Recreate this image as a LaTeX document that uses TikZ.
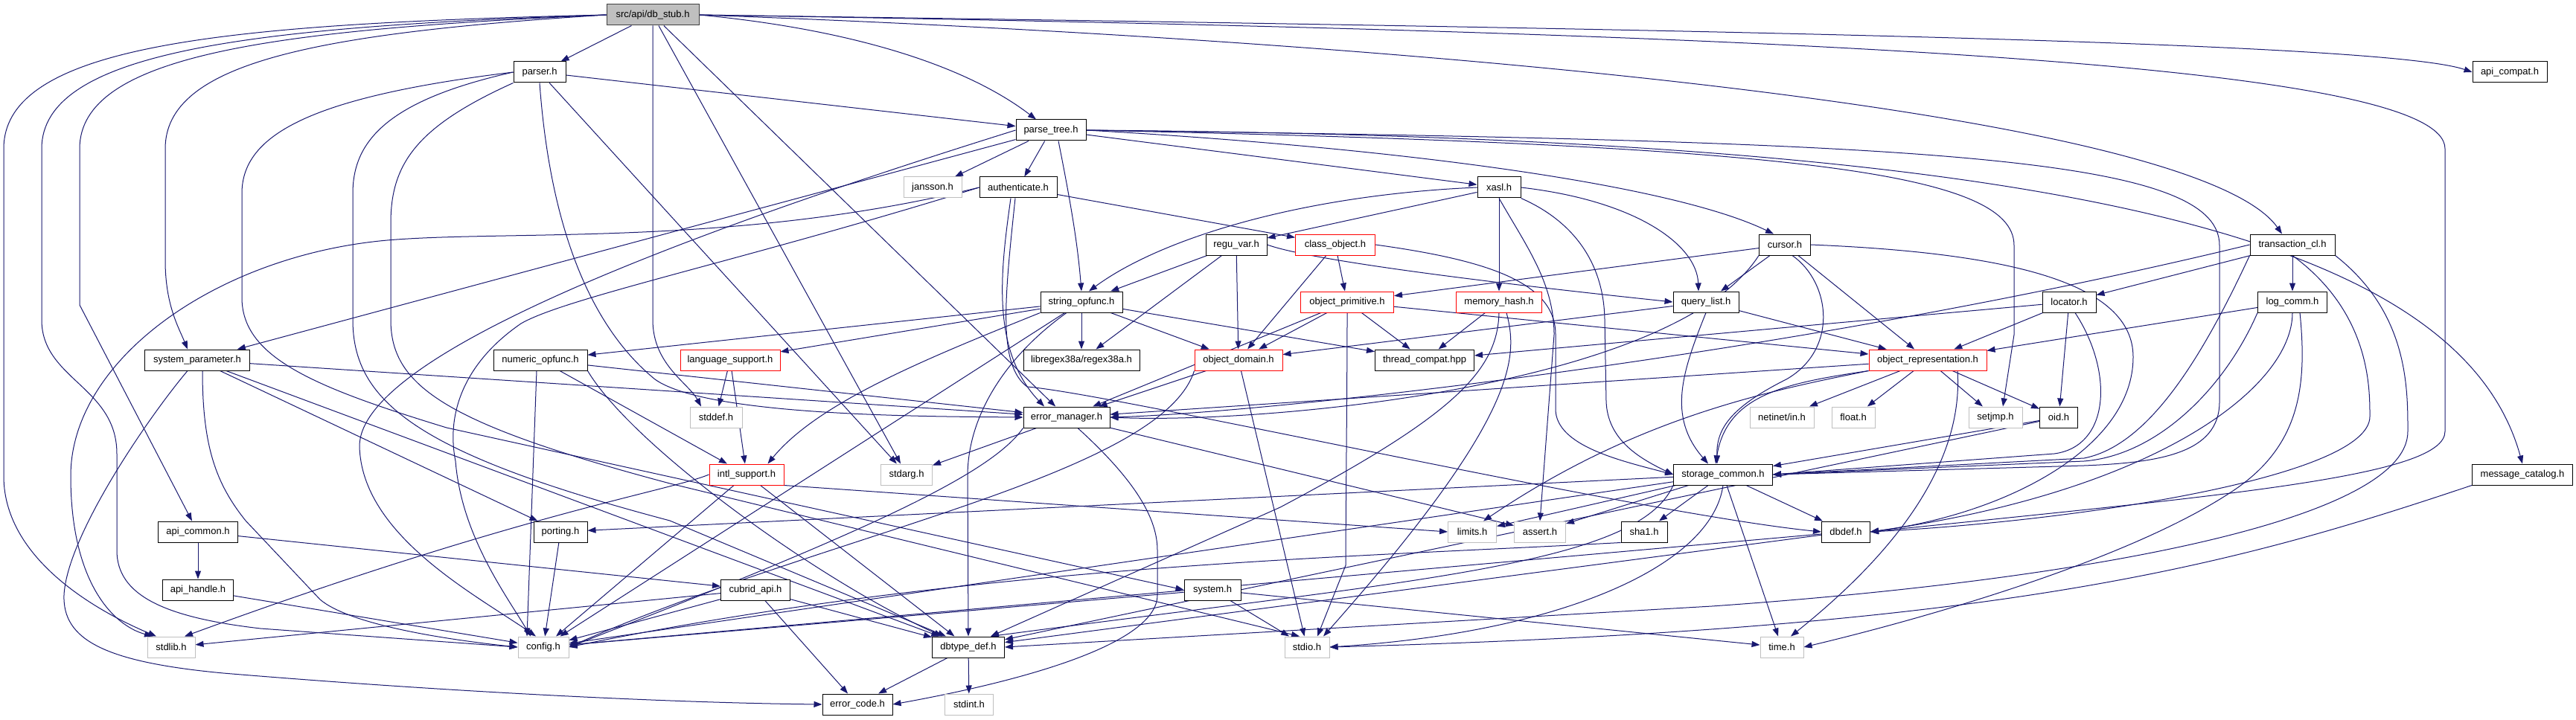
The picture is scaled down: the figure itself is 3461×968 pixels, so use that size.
\documentclass[tikz,border=0pt]{standalone}
\usepackage{fontspec}
\setmainfont{Liberation Sans}
\usetikzlibrary{arrows.meta}
\pgfdeclarelayer{bg}
\pgfsetlayers{bg,main}
\definecolor{edgec}{HTML}{191970}
\definecolor{grayb}{HTML}{BFBFBF}
\definecolor{stubfill}{HTML}{BFBFBF}
\begin{document}
\begin{tikzpicture}[x=1pt,y=-1pt,
  box/.style={draw=black,line width=1pt,rectangle,minimum height=28pt,inner sep=0pt,font=\fontsize{13}{15}\selectfont,text=black,fill=white},
  nb/.style={box},
  nr/.style={box,draw=red},
  ng/.style={box,draw=grayb},
  ns/.style={box,draw=black!75,fill=stubfill},
  e/.style={draw=edgec,line width=1pt,-{Triangle[length=11pt,width=8pt]}},
]
\useasboundingbox (0,0) rectangle (3461,968);
% nodes
\node[ns, minimum width=124] (dbstub) at (877,20) {src/api/db\_stub.h};
\node[nb, minimum width=70] (parser) at (725,97) {parser.h};
\node[nb, minimum width=100] (apicompat) at (3372,97) {api\_compat.h};
\node[nb, minimum width=94] (parsetree) at (1412,175) {parse\_tree.h};
\node[ng, minimum width=78] (jansson) at (1253,252) {jansson.h};
\node[nb, minimum width=104] (authenticate) at (1368,252) {authenticate.h};
\node[nb, minimum width=58] (xasl) at (2014,252) {xasl.h};
\node[nb, minimum width=114] (transcl) at (3080,329) {transaction\_cl.h};
\node[nb, minimum width=82] (reguvar) at (1661,329) {regu\_var.h};
\node[nr, minimum width=107] (classobj) at (1794,329) {class\_object.h};
\node[nb, minimum width=69] (cursor) at (2398,329) {cursor.h};
\node[nb, minimum width=110] (stringop) at (1453,406) {string\_opfunc.h};
\node[nr, minimum width=125] (objprim) at (1810,406) {object\_primitive.h};
\node[nr, minimum width=115] (memhash) at (2014,406) {memory\_hash.h};
\node[nb, minimum width=88] (querylist) at (2292,406) {query\_list.h};
\node[nb, minimum width=72] (locator) at (2780,406) {locator.h};
\node[nb, minimum width=93] (logcomm) at (3080,406) {log\_comm.h};
\node[nb, minimum width=141] (syspar) at (265,484) {system\_parameter.h};
\node[nb, minimum width=126] (numop) at (726,484) {numeric\_opfunc.h};
\node[nr, minimum width=134] (langsup) at (981,484) {language\_support.h};
\node[nb, minimum width=156] (libregex) at (1453,484) {libregex38a/regex38a.h};
\node[nr, minimum width=118] (objdom) at (1664,484) {object\_domain.h};
\node[nb, minimum width=133] (threadc) at (1914,484) {thread\_compat.hpp};
\node[nr, minimum width=158] (objrep) at (2590,484) {object\_representation.h};
\node[ng, minimum width=70] (stddef) at (962,561) {stddef.h};
\node[nb, minimum width=116] (errmgr) at (1433,561) {error\_manager.h};
\node[ng, minimum width=86] (netinet) at (2394,561) {netinet/in.h};
\node[ng, minimum width=58] (float) at (2490,561) {float.h};
\node[ng, minimum width=72] (setjmp) at (2681,561) {setjmp.h};
\node[nb, minimum width=51] (oid) at (2766,561) {oid.h};
\node[nr, minimum width=100] (intl) at (1003,638) {intl\_support.h};
\node[ng, minimum width=69] (stdarg) at (1218,638) {stdarg.h};
\node[nb, minimum width=133] (storage) at (2315,638) {storage\_common.h};
\node[nb, minimum width=135] (msgcat) at (3389,638) {message\_catalog.h};
\node[nb, minimum width=107] (apicommon) at (266,715) {api\_common.h};
\node[nb, minimum width=72] (porting) at (753,715) {porting.h};
\node[ng, minimum width=65] (limits) at (1978,715) {limits.h};
\node[ng, minimum width=69] (assert) at (2069,715) {assert.h};
\node[nb, minimum width=62] (sha1) at (2209,715) {sha1.h};
\node[nb, minimum width=65] (dbdef) at (2480,715) {dbdef.h};
\node[nb, minimum width=95] (apihandle) at (266,793) {api\_handle.h};
\node[nb, minimum width=93] (cubridapi) at (1015,793) {cubrid\_api.h};
\node[nb, minimum width=76] (system) at (1629,793) {system.h};
\node[ng, minimum width=64] (stdlib) at (230,870) {stdlib.h};
\node[ng, minimum width=68] (config) at (730,870) {config.h};
\node[nb, minimum width=97] (dbtype) at (1301,870) {dbtype\_def.h};
\node[ng, minimum width=60] (stdio) at (1756,870) {stdio.h};
\node[ng, minimum width=58] (time) at (2394,870) {time.h};
\node[nb, minimum width=94] (errcode) at (1152,947) {error\_code.h};
\node[ng, minimum width=65] (stdint) at (1302,947) {stdint.h};

\begin{pgfonlayer}{bg}
\fill[white] (0,0) rectangle (3461,968);
% db_stub
\draw[e] (dbstub.west) .. controls (300,32) and (5,60) .. (5,200) -- (5,640) .. controls (5,760) and (150,830) .. ([xshift=-20pt]stdlib.north);
\draw[e] (dbstub.west) .. controls (330,36) and (56,70) .. (56,200) -- (56,430) .. controls (56,510) and (157,520) .. (157,610) -- (157,740) .. controls (157,800) and (220,830) .. (350,845) -- (config.west);
\draw[e] (dbstub.west) .. controls (360,40) and (107,75) .. (107,200) -- (107,410) -- ([xshift=-8pt]apicommon.north);
\draw[e] (dbstub.west) .. controls (420,45) and (222,85) .. (222,200) -- (222,350) .. controls (222,410) and (240,440) .. ([xshift=-13pt]syspar.north);
\draw[e] (dbstub) -- (parser);
\draw[e] (dbstub.south) -- (877,430) .. controls (877,490) and (925,515) .. ([xshift=-20pt]stddef.north);
\draw[e] (dbstub) -- (stdarg);
\draw[e] (dbstub) -- (errmgr);
\draw[e] (dbstub.east) .. controls (1150,40) and (1300,90) .. ([xshift=-20pt]parsetree.north);
\draw[e] (dbstub.east) .. controls (2200,38) and (3200,55) .. (apicompat.west);
\draw[e] (dbstub.east) .. controls (1900,55) and (2950,150) .. ([xshift=-14pt]transcl.north);
\draw[e] (dbstub.east) .. controls (2500,45) and (3285,90) .. (3285,200) -- (3285,580) .. controls (3285,640) and (3000,665) .. (dbdef.east);
% parser
\draw[e] (parser) -- (parsetree);
\draw[e] (parser) -- (stdarg);
\draw[e] (parser.west) .. controls (420,130) and (325,180) .. (325,260) -- (325,400) .. controls (325,480) and (420,520) .. (600,575) -- (system.west);
\draw[e] (parser.west) .. controls (520,135) and (474,190) .. (474,260) -- (474,430) .. controls (474,540) and (560,610) .. (900,700) -- ([xshift=-30pt]dbtype.north);
\draw[e] (parser.south west) .. controls (560,170) and (525,220) .. (525,300) -- (525,430) .. controls (525,520) and (600,570) .. (900,650) -- ([xshift=-10pt]stdio.north);
\draw[e] (parser.south) .. controls (735,250) and (770,420) .. (880,510) .. controls (950,560) and (1250,560) .. (errmgr.west);
% parse_tree
\draw[e] (parsetree) -- (jansson);
\draw[e] (parsetree) -- (authenticate);
\draw[e] ([xshift=10pt]parsetree.south) .. controls (1440,280) and (1448,330) .. (stringop.north);
\draw[e] (parsetree) -- (xasl);
\draw[e] (parsetree.east) .. controls (1900,200) and (2250,250) .. ([xshift=-15pt]cursor.north);
\draw[e] (parsetree) -- (syspar);
\draw[e] (parsetree.west) .. controls (900,320) and (483,480) .. (483,600) .. controls (486,720) and (640,800) .. ([xshift=-10pt]config.north);
\draw[e] (parsetree.east) .. controls (2700,185) and (3300,300) .. (msgcat.north);
\draw[e] (parsetree.east) .. controls (2600,190) and (2982,210) .. (2982,330) -- (2982,540) .. controls (2982,610) and (2900,622) .. (2800,626) -- (storage.east);
\draw[e] (parsetree.east) .. controls (2400,195) and (2706,230) .. (2706,330) -- (2706,450) -- ([xshift=10pt]setjmp.north);
% authenticate
\draw[e] (authenticate) -- (classobj);
\draw[e] (authenticate.west) .. controls (1000,330) and (700,310) .. (533,322) .. controls (300,338) and (95,480) .. (95,640) .. controls (95,780) and (150,840) .. ([xshift=-25pt]stdlib.north);
\draw[e] (authenticate.west) .. controls (1000,350) and (760,400) .. (700,435) .. controls (620,490) and (600,560) .. (612,620) .. controls (620,720) and (680,800) .. ([xshift=-17pt]config.north);
\draw[e] ([xshift=-10pt]authenticate.south) .. controls (1345,360) and (1330,470) .. ([xshift=-30pt]errmgr.north);
\draw[e] ([xshift=-4pt]authenticate.south) .. controls (1350,400) and (1340,490) .. (1380,520) .. controls (1500,530) and (2200,690) .. (dbdef.west);
% xasl
\draw[e] (xasl.west) .. controls (1750,262) and (1560,320) .. ([xshift=10pt]stringop.north);
\draw[e] (xasl) -- (reguvar);
\draw[e] (xasl) -- (memhash);
\draw[e] (xasl.east) .. controls (2200,270) and (2280,330) .. ([xshift=-10pt]querylist.north);
\draw[e] (xasl.south) .. controls (2050,330) and (2088,380) .. (2088,450) -- (assert.north);
\draw[e] (xasl.south east) .. controls (2120,300) and (2155,360) .. (2156,430) -- (2158,540) .. controls (2160,590) and (2200,615) .. (storage.west);
% transaction_cl
\draw[e] (transcl) -- (locator);
\draw[e] (transcl) -- (logcomm);
\draw[e] (transcl.west) .. controls (2400,480) and (1700,555) .. (errmgr.east);
\draw[e] (transcl.south west) .. controls (2950,500) and (2880,600) .. (2800,616) -- (storage.east);
\draw[e] (transcl.south) .. controls (3184,420) and (3184,520) .. (3184,560) .. controls (3184,640) and (2800,700) .. (dbdef.east);
\draw[e] (transcl.south east) .. controls (3235,420) and (3235,520) .. (3235,580) .. controls (3235,700) and (2800,780) .. (2300,815) -- (dbtype.east);
% regu_var
\draw[e] (reguvar) -- (stringop);
\draw[e] (reguvar) -- (libregex);
\draw[e] (reguvar) -- (objdom);
\draw[e] (reguvar.east) .. controls (1760,350) and (2000,380) .. (querylist.west);
% class_object
\draw[e] (classobj) -- (objprim);
\draw[e] (classobj) -- (objdom);
\draw[e] (classobj.east) .. controls (2000,350) and (2090,380) .. (2090,450) -- (2090,550) .. controls (2090,600) and (2180,620) .. (storage.west);
% cursor
\draw[e] (cursor) -- (querylist);
\draw[e] (cursor) -- (objprim);
\draw[e] (cursor) -- (objrep);
\draw[e] (cursor.south west) .. controls (2250,520) and (1700,570) .. (errmgr.east);
\draw[e] ([xshift=10pt]cursor.south) .. controls (2460,380) and (2470,470) .. (2400,510) .. controls (2320,550) and (2306,580) .. ([xshift=-8pt]storage.north);
\draw[e] (cursor.east) .. controls (2700,340) and (2866,380) .. (2866,480) .. controls (2866,600) and (2700,690) .. (dbdef.east);
% string_opfunc
\draw[e] (stringop) -- (numop);
\draw[e] (stringop) -- (langsup);
\draw[e] (stringop.south west) .. controls (1250,480) and (1100,540) .. ([xshift=-22pt]intl.north east);
\draw[e] (stringop) -- (libregex);
\draw[e] (stringop) -- (objdom);
\draw[e] (stringop) -- (threadc);
\draw[e] ([xshift=-20pt]stringop.south) .. controls (1350,480) and (1300,560) .. (1300,640) -- (dbtype.north);
\draw[e] (stringop) -- (config);
% object_primitive
\draw[e] (objprim) -- (threadc);
\draw[e] (objprim) -- (objrep);
\draw[e] (objprim.south) .. controls (1810,520) and (1808,700) .. (1808,760) -- ([xshift=14pt]stdio.north);
\draw[e] (objprim) -- (objdom);
\draw[e] (objprim) -- (errmgr);
% memory_hash
\draw[e] (memhash) -- (threadc);
\draw[e] (memhash.south) .. controls (2012,500) and (1950,560) .. (1720,682) -- ([xshift=30pt]dbtype.north);
\draw[e] ([xshift=10pt]memhash.south) .. controls (2040,480) and (2040,560) .. ([xshift=22pt]stdio.north);
% query_list
\draw[e] (querylist) -- (objdom);
\draw[e] (querylist.south) .. controls (2260,500) and (2240,560) .. ([xshift=-20pt]storage.north);
\draw[e] (querylist) -- (objrep);
% locator
\draw[e] (locator) -- (objrep);
\draw[e] (locator) -- (oid);
\draw[e] (locator) -- (threadc);
\draw[e] ([xshift=8pt]locator.south) .. controls (2840,500) and (2835,600) .. (2760,610) -- (storage.east);
% log_comm
\draw[e] (logcomm) -- (objrep);
\draw[e] (logcomm.south west) .. controls (2990,520) and (2900,612) .. (2800,620) -- (storage.east);
\draw[e] (logcomm.south) .. controls (3080,520) and (2900,660) .. (dbdef.east);
\draw[e] ([xshift=10pt]logcomm.south) .. controls (3100,520) and (3090,600) .. (3000,660) .. controls (2850,760) and (2550,840) .. (time.east);
% system_parameter
\draw[e] (syspar) -- (errmgr);
\draw[e] (syspar) -- (porting);
\draw[e] ([xshift=7pt]syspar.south) .. controls (272,600) and (290,650) .. (330,700) -- (430,806) .. controls (470,840) and (600,860) .. (config.west);
\draw[e] ([xshift=-13pt]syspar.south) .. controls (200,560) and (90,720) .. (86,800) .. controls (84,860) and (140,890) .. (300,905) .. controls (600,930) and (900,945) .. (errcode.west);
\draw[e] (syspar) -- (dbtype);
% numeric_opfunc
\draw[e] (numop) -- (errmgr);
\draw[e] (numop) -- (intl);
\draw[e] (numop.south east) .. controls (850,600) and (1100,780) .. ([xshift=-35pt]dbtype.north);
\draw[e] ([xshift=-5pt]numop.south) -- ([xshift=-22pt]config.north);
% language_support
\draw[e] (langsup) -- (stddef);
\draw[e] (langsup) -- (intl);
% object_domain
\draw[e] (objdom) -- (errmgr);
\draw[e] (objdom.south west) .. controls (1560,640) and (1100,720) .. (config.east);
\draw[e] (objdom) -- (stdio);
% object_representation
\draw[e] (objrep) -- (netinet);
\draw[e] (objrep) -- (float);
\draw[e] (objrep) -- (setjmp);
\draw[e] (objrep) -- (oid);
\draw[e] (objrep) -- (errmgr);
\draw[e] (objrep.south west) .. controls (2400,515) and (2320,530) .. ([xshift=-10pt]storage.north);
\draw[e] (objrep.south west) .. controls (2380,525) and (2200,560) .. ([xshift=15pt]limits.north);
\draw[e] ([xshift=40pt]objrep.south) .. controls (2640,650) and (2500,780) .. ([xshift=12pt]time.north);
% error_manager
\draw[e] (errmgr) -- (stdarg);
\draw[e] (errmgr.south west) .. controls (1330,640) and (1150,720) .. (config.east);
\draw[e] ([xshift=15pt]errmgr.south) .. controls (1530,650) and (1555,700) .. (1555,740) -- (1555,800) .. controls (1555,870) and (1350,920) .. (errcode.east);
\draw[e] (errmgr) -- (assert);
% intl_support
\draw[e] (intl.west) .. controls (900,660) and (700,690) .. ([xshift=18pt]stdlib.north);
\draw[e] (intl) -- (dbtype);
\draw[e] (intl) -- (config);
\draw[e] (intl.south east) -- (limits.west);
% storage_common
\draw[e] (storage) -- (porting);
\draw[e] (storage) -- (limits);
\draw[e] (storage) -- (assert);
\draw[e] (storage) -- (sha1);
\draw[e] (storage) -- (dbdef);
\draw[e] (storage.south) .. controls (2300,760) and (2100,850) .. (stdio.east);
\draw[e] (storage) -- (time);
\draw[e] (storage) -- (config);
\draw[e] (storage.south west) .. controls (2200,760) and (1900,780) .. ([xshift=30pt]dbtype.north);
% message_catalog
\draw[e] (msgcat.south west) .. controls (3000,760) and (2700,845) .. (stdio.east);
% api_common
\draw[e] (apicommon) -- (apihandle);
\draw[e] (apicommon) -- (cubridapi);
% leaves
\draw[e] (apihandle) -- (config);
\draw[e] (porting) -- (config);
\draw[e] (sha1.south west) .. controls (1800,750) and (1300,760) .. (config.east);
\draw[e] (dbdef) -- (config);
\draw[e] (dbdef) -- (dbtype);
\draw[e] (cubridapi) -- (stdlib);
\draw[e] (cubridapi) -- (config);
\draw[e] (cubridapi) -- (errcode);
\draw[e] (cubridapi) -- (dbtype);
\draw[e] (system) -- (config);
\draw[e] (system) -- (stdio);
\draw[e] (system) -- (time);
\draw[e] (dbtype) -- (errcode);
\draw[e] (dbtype) -- (stdint);
\draw[e] (oid) -- (storage);
\draw[e] (oid) -- (dbtype);
\end{pgfonlayer}
\end{tikzpicture}
\end{document}
